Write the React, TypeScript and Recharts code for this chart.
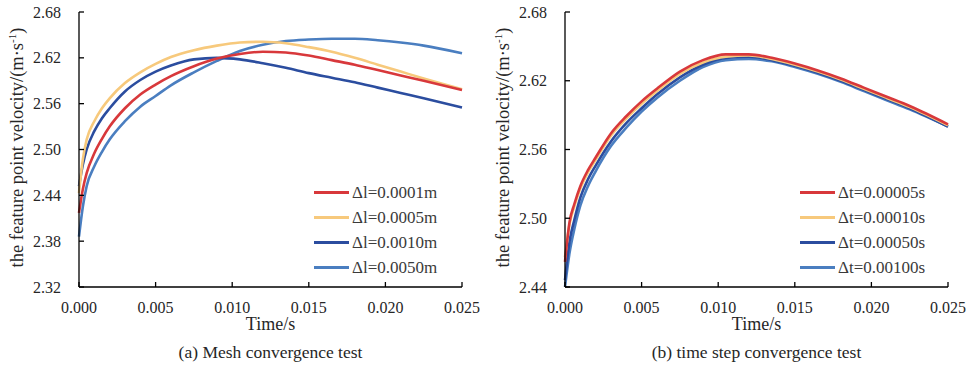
import { LineChart, Line, XAxis, YAxis } from "recharts";

const FONT = "Liberation Serif, Times New Roman, Times, serif";
const INK = "#262626";

// (a) mesh convergence
const meshTime = [0, 0.00025, 0.0005, 0.001, 0.0015, 0.002, 0.003, 0.004, 0.005, 0.006, 0.0075, 0.009, 0.0105, 0.012, 0.0135, 0.015, 0.0165, 0.018, 0.0195, 0.021, 0.0225, 0.025];
const meshL0001 = [2.417, 2.448, 2.469, 2.495, 2.514, 2.53, 2.554, 2.572, 2.585, 2.596, 2.609, 2.619, 2.625, 2.628, 2.627, 2.623, 2.617, 2.611, 2.604, 2.597, 2.59, 2.578];
const meshL0005 = [2.443, 2.487, 2.513, 2.537, 2.554, 2.567, 2.587, 2.601, 2.612, 2.621, 2.63, 2.636, 2.64, 2.641, 2.639, 2.634, 2.628, 2.62, 2.611, 2.602, 2.593, 2.579];
const meshL0010 = [2.452, 2.48, 2.5, 2.524, 2.541, 2.554, 2.576, 2.591, 2.602, 2.61, 2.618, 2.62, 2.618, 2.613, 2.607, 2.6, 2.594, 2.588, 2.581, 2.574, 2.567, 2.555];
const meshL0050 = [2.386, 2.425, 2.452, 2.478, 2.497, 2.513, 2.537, 2.556, 2.57, 2.584, 2.601, 2.616, 2.629, 2.637, 2.642, 2.644, 2.645, 2.645, 2.643, 2.64, 2.636, 2.626];

// (b) time step convergence
const stepTime = [0, 0.0003, 0.0006, 0.001, 0.0015, 0.002, 0.003, 0.004, 0.005, 0.006, 0.0075, 0.009, 0.0105, 0.012, 0.0135, 0.015, 0.0165, 0.018, 0.0195, 0.021, 0.0225, 0.025];
const stepT00005 = [2.462, 2.497, 2.512, 2.528, 2.542, 2.553, 2.574, 2.589, 2.602, 2.613, 2.628, 2.638, 2.643, 2.643, 2.64, 2.635, 2.629, 2.622, 2.614, 2.606, 2.598, 2.582];
const stepT00010 = [2.466, 2.495, 2.51, 2.526, 2.54, 2.551, 2.572, 2.587, 2.6, 2.611, 2.626, 2.636, 2.641, 2.642, 2.639, 2.634, 2.628, 2.621, 2.613, 2.605, 2.597, 2.581];
const stepT00050 = [2.446, 2.48, 2.498, 2.518, 2.534, 2.546, 2.567, 2.583, 2.596, 2.608, 2.623, 2.634, 2.64, 2.641, 2.638, 2.633, 2.627, 2.62, 2.612, 2.604, 2.596, 2.58];
const stepT00100 = [2.44, 2.47, 2.49, 2.511, 2.528, 2.541, 2.563, 2.579, 2.593, 2.605, 2.62, 2.632, 2.638, 2.639, 2.637, 2.632, 2.626, 2.619, 2.611, 2.603, 2.595, 2.58];

const timeTicks = [0, 0.005, 0.01, 0.015, 0.02, 0.025];
const meshVelTicks = [2.32, 2.38, 2.44, 2.5, 2.56, 2.62, 2.68];
const stepVelTicks = [2.44, 2.5, 2.56, 2.62, 2.68];

const RED = "#d8383b";
const YELLOW = "#f7c97c";
const NAVY = "#2b4d9f";
const BLUE = "#4a7ec0";

interface Series {
  key: string;
  name: string;
  color: string;
  values: number[];
}

const meshSeries: Series[] = [
  { key: "l0001", name: "Δl=0.0001m", color: RED, values: meshL0001 },
  { key: "l0005", name: "Δl=0.0005m", color: YELLOW, values: meshL0005 },
  { key: "l0010", name: "Δl=0.0010m", color: NAVY, values: meshL0010 },
  { key: "l0050", name: "Δl=0.0050m", color: BLUE, values: meshL0050 },
];

const stepSeries: Series[] = [
  { key: "t00005", name: "Δt=0.00005s", color: RED, values: stepT00005 },
  { key: "t00010", name: "Δt=0.00010s", color: YELLOW, values: stepT00010 },
  { key: "t00050", name: "Δt=0.00050s", color: NAVY, values: stepT00050 },
  { key: "t00100", name: "Δt=0.00100s", color: BLUE, values: stepT00100 },
];

function buildRows(time: number[], series: Series[]) {
  return time.map((t, i) => {
    const row: Record<string, number> = { t };
    series.forEach((s) => (row[s.key] = s.values[i]));
    return row;
  });
}

const W = 486;
const H = 370;
const txt = { fontFamily: FONT };

const XTick = (p: any) => (
  <g>
    <line x1={p.x} y1={p.y} x2={p.x} y2={p.y - 5} stroke="#000" strokeWidth={1.3} />
    <text x={p.x} y={p.y + 26} textAnchor="middle" fontSize={16} style={txt} fill={INK}>
      {Number(p.payload.value).toFixed(3)}
    </text>
  </g>
);

const YTick = (p: any) => (
  <g>
    <line x1={p.x} y1={p.y} x2={p.x + 5} y2={p.y} stroke="#000" strokeWidth={1.3} />
    <text x={p.x - 18} y={p.y} dy="0.35em" textAnchor="end" fontSize={16} style={txt} fill={INK}>
      {Number(p.payload.value).toFixed(2)}
    </text>
  </g>
);

function Panel({ time, series, yTicks, caption }: { time: number[]; series: Series[]; yTicks: number[]; caption: string }) {
  const rows = buildRows(time, series);
  const yDomain = [yTicks[0], yTicks[yTicks.length - 1]];
  return (
    <div style={{ position: "relative", width: W, height: H }}>
      <LineChart width={W} height={H} data={rows} margin={{ top: 12, right: 24, left: 0, bottom: 0 }}>
        <XAxis
          dataKey="t"
          type="number"
          domain={[0, 0.025]}
          ticks={timeTicks}
          height={83}
          tickSize={0}
          tickMargin={0}
          tickLine={false}
          tick={XTick}
          axisLine={{ stroke: "#000", strokeWidth: 1.3 }}
          label={{
            content: (lp: any) => {
              const vb = lp.viewBox;
              const cx = vb.x + vb.width / 2;
              return (
                <g style={txt} fill={INK} textAnchor="middle">
                  <text x={cx} y={vb.y + 43} fontSize={18} style={txt}>Time/s</text>
                  <text x={cx} y={vb.y + 71} fontSize={17.5} style={txt}>{caption}</text>
                </g>
              );
            },
          }}
        />
        <XAxis xAxisId="top" orientation="top" dataKey="t" type="number" domain={[0, 0.025]} height={0} tick={false} tickLine={false} axisLine={{ stroke: "#000", strokeWidth: 1.3 }} />
        <YAxis
          type="number"
          domain={yDomain}
          ticks={yTicks}
          allowDataOverflow
          width={79}
          tickSize={0}
          tickMargin={0}
          tickLine={false}
          tick={YTick}
          axisLine={{ stroke: "#000", strokeWidth: 1.3 }}
          label={{
            content: (lp: any) => {
              const vb = lp.viewBox;
              const cy = vb.y + vb.height / 2 - 2;
              return (
                <text x={23} y={cy} transform={`rotate(-90, 23, ${cy})`} textAnchor="middle" fontSize={18.5} style={txt} fill={INK}>
                  <tspan>the feature point velocity/(m·s</tspan>
                  <tspan dy={-7} fontSize={11}>-1</tspan>
                  <tspan dy={7}>)</tspan>
                </text>
              );
            },
          }}
        />
        <YAxis yAxisId="right" orientation="right" type="number" domain={yDomain} width={0} tick={false} tickLine={false} axisLine={{ stroke: "#000", strokeWidth: 1.3 }} />
        {[...series].reverse().map((s) => (
          <Line key={s.key} dataKey={s.key} name={s.name} type="monotone" stroke={s.color} strokeWidth={2.6} dot={false} isAnimationActive={false} />
        ))}
      </LineChart>
      <div style={{ position: "absolute", left: 314, top: 180, fontFamily: FONT, fontSize: 17, color: "#3a3a3a" }}>
        {series.map((s) => (
          <div key={s.key} style={{ display: "flex", alignItems: "center", height: 25 }}>
            <span style={{ display: "inline-block", width: 35, height: 3, background: s.color, marginRight: 3 }} />
            <span>{s.name}</span>
          </div>
        ))}
      </div>
    </div>
  );
}

export default function App() {
  return (
    <div style={{ position: "absolute", left: 0, top: 0, width: 972, height: 370, background: "#fff", display: "flex", fontFamily: FONT }}>
      <Panel time={meshTime} series={meshSeries} yTicks={meshVelTicks} caption="(a) Mesh convergence test" />
      <Panel time={stepTime} series={stepSeries} yTicks={stepVelTicks} caption="(b) time step convergence test" />
    </div>
  );
}
